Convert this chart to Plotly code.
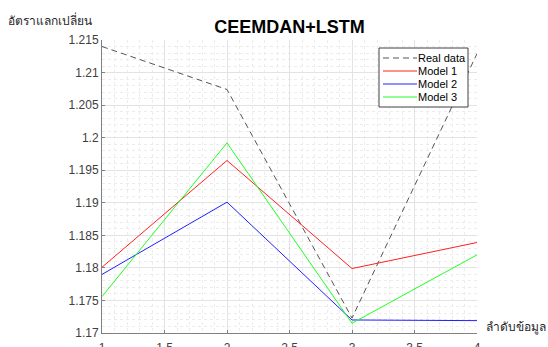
import plotly.graph_objects as go

x_index = [1, 2, 3, 4]
real_data = [1.2140, 1.2074, 1.1723, 1.2129]
model_1 = [1.1801, 1.1965, 1.1799, 1.1839]
model_2 = [1.1790, 1.1901, 1.1720, 1.1719]
model_3 = [1.1756, 1.1992, 1.1715, 1.1820]

series_names = ["Real data", "Model 1", "Model 2", "Model 3"]
x_ticks = [1, 1.5, 2, 2.5, 3, 3.5, 4]
x_tick_labels = ["1", "1.5", "2", "2.5", "3", "3.5", "4"]
y_ticks = [1.17, 1.175, 1.18, 1.185, 1.19, 1.195, 1.2, 1.205, 1.21, 1.215]
y_tick_labels = ["1.17", "1.175", "1.18", "1.185", "1.19", "1.195", "1.2", "1.205", "1.21", "1.215"]

title_text = "CEEMDAN+LSTM"
y_label = "อัตราแลกเปลี่ยน"
x_label = "ลำดับข้อมูล"

font_family = "Liberation Sans, Arial, sans-serif"
line_styles = [
    dict(color="#555555", width=1, dash="6px,4px"),
    dict(color="#ff2020", width=1),
    dict(color="#2020ff", width=1),
    dict(color="#20ff20", width=1),
]
series_values = [real_data, model_1, model_2, model_3]

fig = go.Figure()
for name, vals, style in zip(series_names, series_values, line_styles):
    fig.add_trace(go.Scatter(x=x_index, y=vals, name=name, mode="lines",
                             line=style, showlegend=False))

# plot area in pixels
L, R, T, B = 102, 477, 40, 333
W, H = 548, 347
pw, ph = R - L, B - T

fig.update_layout(
    width=W, height=H,
    margin=dict(l=L, r=W - R, t=T, b=H - B),
    paper_bgcolor="white", plot_bgcolor="white",
    font=dict(family=font_family, size=11, color="#262626"),
    title=dict(text="<b>" + title_text + "</b>", x=289.5 / W, xanchor="center",
               y=1 - 27 / H, yanchor="middle",
               font=dict(size=18, color="black", family=font_family)),
    showlegend=False,
    xaxis=dict(range=[1, 4], tickvals=x_ticks, ticktext=x_tick_labels,
               automargin=False,
               showline=True, linecolor="#808080", linewidth=1,
               ticks="inside", ticklen=3, tickcolor="#808080",
               showgrid=True, gridcolor="#e3e3e3", gridwidth=1,
               zeroline=False, tickfont=dict(size=12, color="#404040"),
               ticklabelstandoff=4,
               minor=dict(dtick=0.1, showgrid=True, gridcolor="#ececec",
                          griddash="dot", ticks="")),
    yaxis=dict(range=[1.17, 1.215], tickvals=y_ticks, ticktext=y_tick_labels,
               automargin=False,
               showline=True, linecolor="#808080", linewidth=1,
               ticks="inside", ticklen=3, tickcolor="#808080",
               showgrid=True, gridcolor="#e3e3e3", gridwidth=1,
               zeroline=False, tickfont=dict(size=12, color="#404040"),
               minor=dict(dtick=0.001, showgrid=True, gridcolor="#ececec",
                          griddash="dot", ticks="")),
)

# legend box (drawn with paper-referenced shapes, matching MATLAB legend)
lx0, lx1, ly0, ly1 = 379, 468, 48, 107
def px(xp):
    return (xp - L) / pw
def py(yp):
    return (B - yp) / ph

fig.add_shape(type="rect", xref="paper", yref="paper",
              x0=px(lx0), x1=px(lx1), y0=py(ly1), y1=py(ly0),
              line=dict(color="#404040", width=1), fillcolor="white", layer="above")
row_y = [58, 71, 84, 97]
for name, style, ry in zip(series_names, line_styles, row_y):
    fig.add_shape(type="line", xref="paper", yref="paper",
                  x0=px(383), x1=px(417), y0=py(ry), y1=py(ry),
                  line=style, layer="above")
    fig.add_annotation(text=name, xref="paper", yref="paper",
                       x=px(416), y=py(ry), xanchor="left", yanchor="middle",
                       showarrow=False, font=dict(size=11, color="black"))

fig.add_annotation(text=y_label, xref="paper", yref="paper",
                   x=px(6), y=py(20), xanchor="left", yanchor="middle",
                   showarrow=False, font=dict(size=12, color="#262626"))
fig.add_annotation(text=x_label, xref="paper", yref="paper",
                   x=px(484), y=py(327), xanchor="left", yanchor="middle",
                   showarrow=False, font=dict(size=12, color="#262626"))

fig.write_html("out.html")
